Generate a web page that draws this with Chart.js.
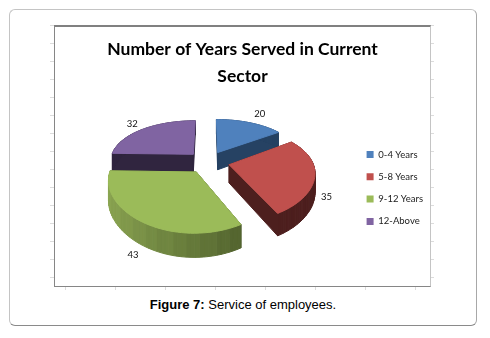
<!DOCTYPE html>
<html>
<head>
<meta charset="utf-8">
<script src="https://cdn.jsdelivr.net/npm/chart.js@4"></script>
<style>
html, body { margin: 0; padding: 0; background: #fff; }
#frame { position: absolute; left: 9px; top: 9px; width: 466px; height: 315px; border: 1px solid #c4c4c4;
  border-right-color: #a8a8a8; border-bottom-color: #8a8a8a; border-radius: 6px; }
#ticks { position: absolute; left: 50px; top: 25px; width: 384px; height: 265px;
  background:
    repeating-linear-gradient(to bottom, #dcdcdc 0 1px, transparent 1px 18px) left top / 4px 261px no-repeat,
    repeating-linear-gradient(to bottom, #dcdcdc 0 1px, transparent 1px 18px) right top / 4px 261px no-repeat,
    repeating-linear-gradient(to left, #dcdcdc 0 1px, transparent 1px 50px) 0 bottom / 366px 4px no-repeat; }
#box { position: absolute; left: 54px; top: 25px; width: 375px; height: 259px; background: #fff;
  border: 1px solid #868686; border-top: 2px solid #808080; border-right-color: #c4c4c4; }
#box canvas { position: absolute; left: 0; top: 0; }
#caption { position: absolute; left: 9px; width: 468px; top: 297px; text-align: center;
  font: 13px "Liberation Sans", Arial, sans-serif; color: #000; }
</style>
</head>
<body>
<div id="frame"></div>
<div id="ticks"></div>
<div id="box"><canvas id="chart" width="375" height="258"></canvas></div>
<div id="caption"><b>Figure 7:</b> Service of employees.</div>
<script>
const categories = ['0-4 Years', '5-8 Years', '9-12 Years', '12-Above'];
const years = [20, 35, 43, 32];
const titleLines = ['Number of Years Served in Current', 'Sector'];
const topColors = ['#4f81bd', '#c0504d', '#9bbb59', '#8064a2'];
const sideLeft = ['#264263', '#4d1f1e', '#8ba552', '#30253f'];
const sideRight = ['#264263', '#4d1f1e', '#3f4d22', '#30253f'];
const drawOrder = [0, 3, 1, 2];

// fake 3D look, pie tilted back with a bit of perspective
const tilt = { cx: 153, cy: 135, scale: 1.025, ky: 0.52, perspX: 0.15, perspY: 0.21, depth: 18 };
const labelRadius = [1.36, 1.13, 1.14, 1.25];

function project(arc, a, r, dropped) {
    const off = arc.options.offset / arc.outerRadius;
    const mid = (arc.startAngle + arc.endAngle) / 2;
    const u = Math.cos(a) * r + Math.cos(mid) * off;
    const v = -(Math.sin(a) * r + Math.sin(mid) * off);
    const sx = 1 / (1 + tilt.perspX * v);
    const sy = 1 / (1 + tilt.perspY * v);
    const R = arc.outerRadius * tilt.scale;
    return {
        x: tilt.cx + u * R * sx,
        y: tilt.cy - v * R * tilt.ky * sy + (dropped ? tilt.depth * sy : 0)
    };
}

function mixColor(c1, c2, t) {
    const p = c => [1, 3, 5].map(i => parseInt(c.substr(i, 2), 16));
    const a = p(c1), b = p(c2);
    return 'rgb(' + a.map((x, i) => Math.round(x + (b[i] - x) * t)).join(',') + ')';
}

function fillPoly(ctx, pts, color) {
    ctx.beginPath();
    pts.forEach((p, i) => i ? ctx.lineTo(p.x, p.y) : ctx.moveTo(p.x, p.y));
    ctx.closePath();
    ctx.fillStyle = color;
    ctx.strokeStyle = color;
    ctx.lineWidth = 1;
    ctx.fill();
    ctx.stroke();
}

function drawSlice(ctx, arc, i) {
    const steps = 48;
    const a0 = arc.startAngle, a1 = arc.endAngle;
    const da = (a1 - a0) / steps;

    // the two flat cut faces
    [a0, a1].forEach(a => {
        fillPoly(ctx, [project(arc, a, 0, false), project(arc, a, 1, false),
            project(arc, a, 1, true), project(arc, a, 0, true)], sideRight[i]);
    });

    // curved wall in narrow facets, shaded left to right
    for (let k = 0; k < steps; k++) {
        const a = a0 + da * k, b = a + da;
        const t = (Math.cos((a + b) / 2) + 1) / 2;
        const band = Math.round(t * 14) / 14;
        fillPoly(ctx, [project(arc, a, 1, false), project(arc, b, 1, false),
            project(arc, b, 1, true), project(arc, a, 1, true)], mixColor(sideLeft[i], sideRight[i], band));
    }

    // top face
    const top = [project(arc, a0, 0, false)];
    for (let k = 0; k <= steps; k++) top.push(project(arc, a0 + da * k, 1, false));
    fillPoly(ctx, top, topColors[i]);
}

const pie3d = {
    id: 'pie3d',
    beforeDatasetsDraw(chart) {
        const ctx = chart.ctx;
        const arcs = chart.getDatasetMeta(0).data;
        ctx.save();
        drawOrder.forEach(i => drawSlice(ctx, arcs[i], i));
        ctx.fillStyle = '#111';
        ctx.font = '9.5px Lato';
        ctx.textAlign = 'center';
        ctx.textBaseline = 'middle';
        arcs.forEach((arc, i) => {
            const mid = (arc.startAngle + arc.endAngle) / 2;
            const p = project(arc, mid, labelRadius[i], i === 1 || i === 2);
            ctx.fillText(String(years[i]), p.x, p.y);
        });
        ctx.restore();
        return false;
    }
};

new Chart(document.getElementById('chart'), {
    type: 'pie',
    data: {
        labels: categories,
        datasets: [{ data: years, backgroundColor: topColors, borderWidth: 0, offset: 21 }]
    },
    plugins: [pie3d],
    options: {
        responsive: false,
        animation: false,
        layout: { padding: { left: -3, right: -3, bottom: 5 } },
        plugins: {
            tooltip: { enabled: false },
            title: {
                display: true,
                text: titleLines,
                color: '#000',
                font: { family: 'Lato', size: 17.5, weight: 'bold', lineHeight: 1.54 },
                padding: { top: 9, bottom: 6 }
            },
            legend: {
                position: 'right',
                fullSize: false,
                labels: {
                    boxWidth: 7, boxHeight: 7, padding: 12.8,
                    color: '#222',
                    font: { family: 'Lato', size: 9.5 }
                }
            }
        }
    }
});
</script>
</body>
</html>
